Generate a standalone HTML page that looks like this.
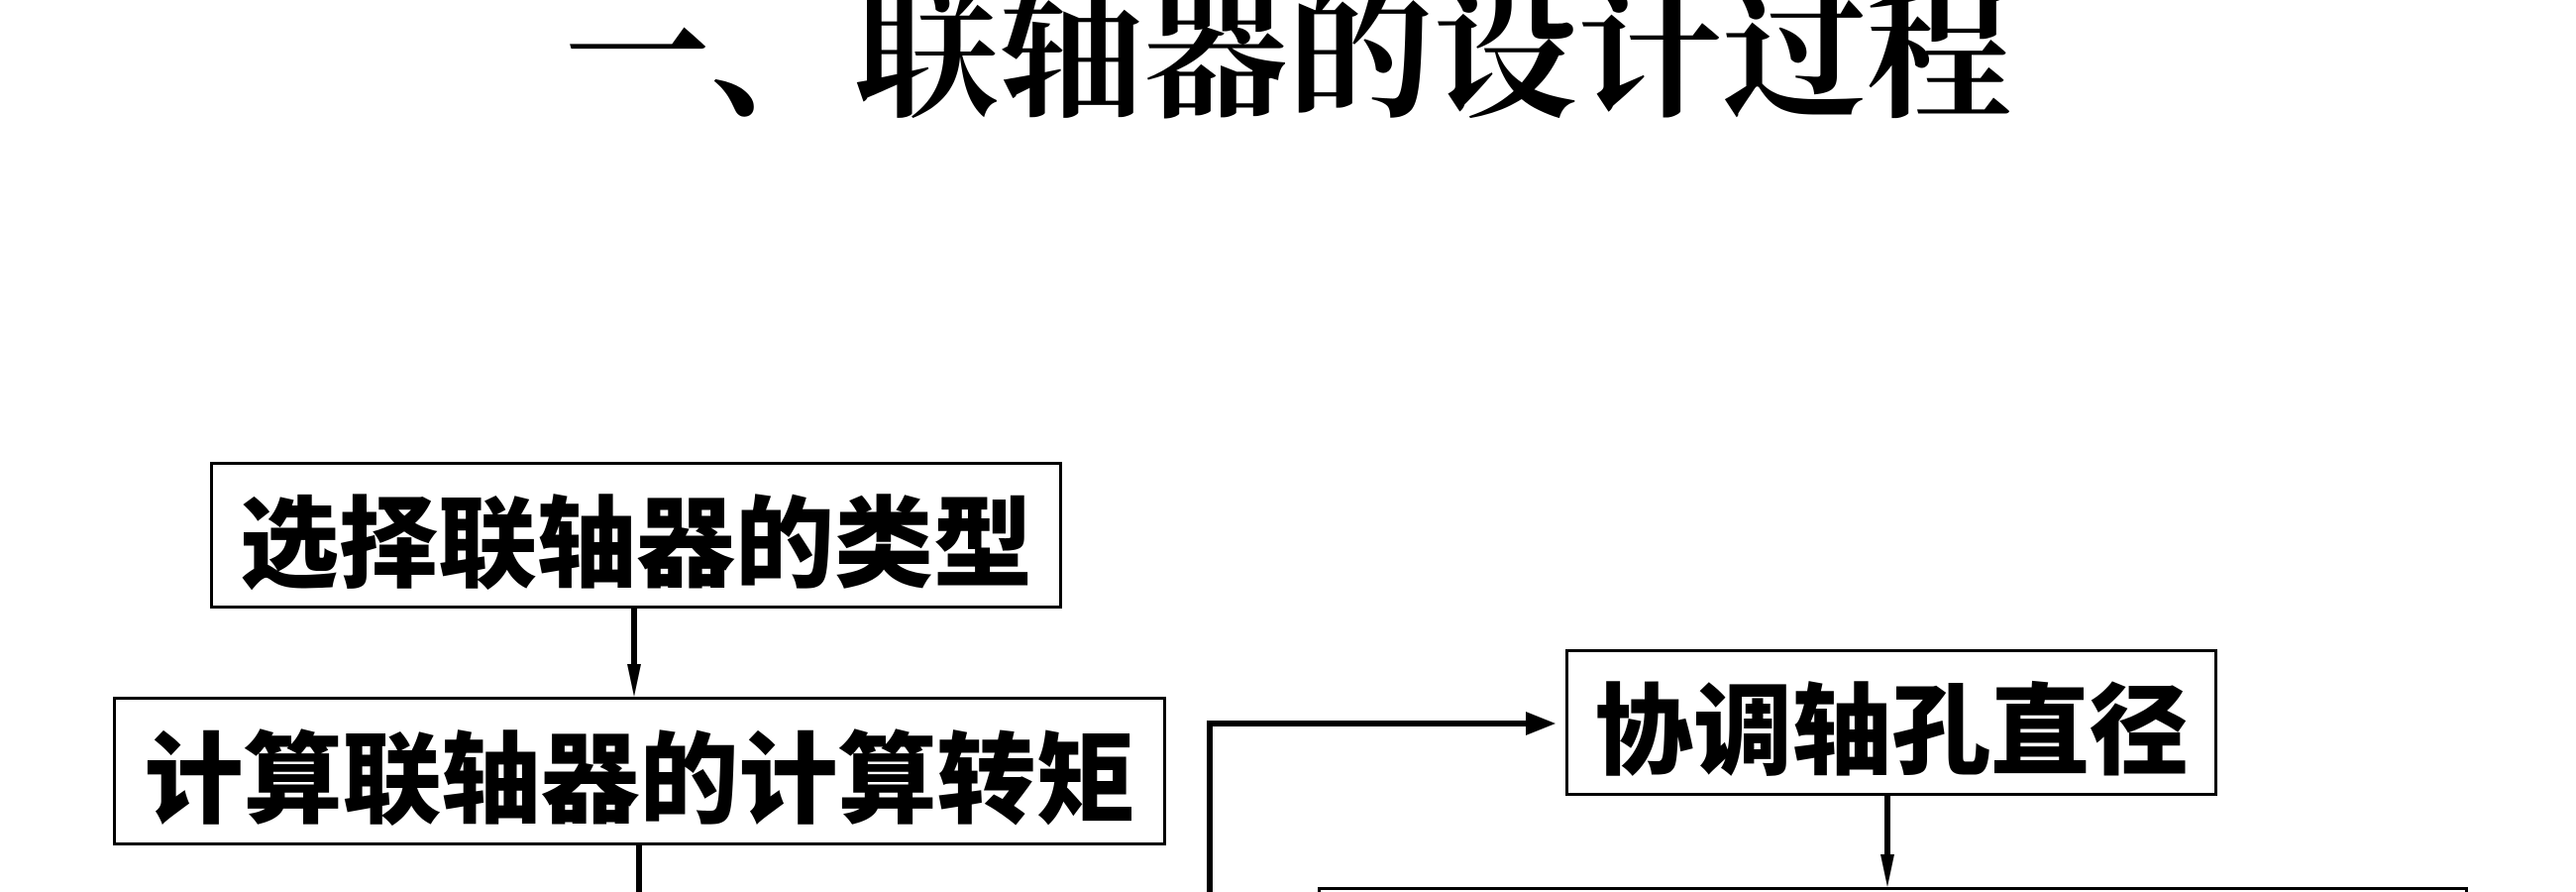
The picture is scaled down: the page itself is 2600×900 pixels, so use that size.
<!DOCTYPE html>
<html><head><meta charset="utf-8"><style>
html,body{margin:0;padding:0;background:#fff;width:2600px;height:900px;overflow:hidden;}
#w{width:2600px;height:900px;position:relative;overflow:hidden;}
.t{position:absolute;left:0;width:2600px;top:-16px;text-align:center;font-family:"Liberation Serif","Noto Serif CJK SC",serif;font-size:146px;line-height:146px;font-weight:700;color:#000;}
.b{position:absolute;border:3px solid #000;box-sizing:border-box;display:flex;align-items:center;justify-content:center;font-family:"Liberation Sans","Noto Sans CJK SC",sans-serif;font-weight:900;font-size:100px;color:#000;white-space:nowrap;background:#fff;}
svg{position:absolute;left:0;top:0;}
</style></head><body><div id="w">
<div class="t">一、联轴器的设计过程</div>
<svg width="2600" height="900">
<g stroke="#000" stroke-width="6" fill="none">
<line x1="640" y1="613" x2="640" y2="680"/>
<line x1="645" y1="852" x2="645" y2="900"/>
<polyline points="1221,900 1221,730 1545,730"/>
<line x1="1905" y1="802" x2="1905" y2="870"/>
</g>
<g fill="#000">
<polygon points="633,670 647,670 640,703"/>
<polygon points="1540,718 1540,742 1570,730"/>
<polygon points="1898,862 1912,862 1905,895"/>
</g>
</svg>
<div class="b" style="left:212px;top:466px;width:860px;height:148px;">选择联轴器的类型</div>
<div class="b" style="left:114px;top:703px;width:1063px;height:150px;">计算联轴器的计算转矩</div>
<div class="b" style="left:1580px;top:655px;width:658px;height:148px;">协调轴孔直径</div>
<div class="b" style="left:1330px;top:895px;width:1161px;height:5px;border-bottom:none;"></div>
</div></body></html>
